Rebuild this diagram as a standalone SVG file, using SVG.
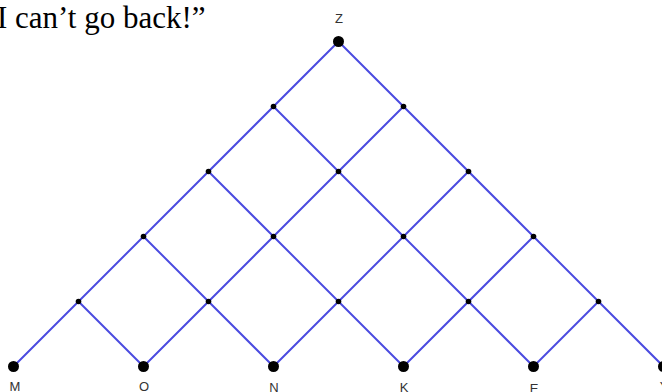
<svg xmlns="http://www.w3.org/2000/svg" width="662" height="392" viewBox="0 0 662 392">
<style>
.e{stroke:#4b4be0;stroke-width:2;fill:none;stroke-linecap:round}
.big{fill:#000}
.sm{fill:#000}
.lb{font-family:"Liberation Sans",Arial,sans-serif;font-size:13px;fill:#333;text-anchor:middle}
.q{font-family:"Liberation Serif","Times New Roman",serif;font-size:31px;fill:#000}
</style>
<rect width="662" height="392" fill="#fff"/>
<text class="q" x="-3" y="28">I can’t go back!”</text>
<g id="edges">
<line class="e" x1="338.5" y1="41.5" x2="13.5" y2="366.5"/>
<line class="e" x1="403.5" y1="106.5" x2="143.5" y2="366.5"/>
<line class="e" x1="468.5" y1="171.5" x2="273.5" y2="366.5"/>
<line class="e" x1="533.5" y1="236.5" x2="403.5" y2="366.5"/>
<line class="e" x1="598.5" y1="301.5" x2="533.5" y2="366.5"/>
<line class="e" x1="338.5" y1="41.5" x2="663.5" y2="366.5"/>
<line class="e" x1="273.5" y1="106.5" x2="533.5" y2="366.5"/>
<line class="e" x1="208.5" y1="171.5" x2="403.5" y2="366.5"/>
<line class="e" x1="143.5" y1="236.5" x2="273.5" y2="366.5"/>
<line class="e" x1="78.5" y1="301.5" x2="143.5" y2="366.5"/>
</g>
<g id="nZ"><circle class="big" cx="338.5" cy="41.5" r="5.5"/><text class="lb" x="339" y="23">Z</text></g>
<g id="r1a"><circle class="sm" cx="273.5" cy="106.5" r="2.8"/></g>
<g id="r1b"><circle class="sm" cx="403.5" cy="106.5" r="2.8"/></g>
<g id="r2a"><circle class="sm" cx="208.5" cy="171.5" r="2.8"/></g>
<g id="r2b"><circle class="sm" cx="338.5" cy="171.5" r="2.8"/></g>
<g id="r2c"><circle class="sm" cx="468.5" cy="171.5" r="2.8"/></g>
<g id="r3a"><circle class="sm" cx="143.5" cy="236.5" r="2.8"/></g>
<g id="r3b"><circle class="sm" cx="273.5" cy="236.5" r="2.8"/></g>
<g id="r3c"><circle class="sm" cx="403.5" cy="236.5" r="2.8"/></g>
<g id="r3d"><circle class="sm" cx="533.5" cy="236.5" r="2.8"/></g>
<g id="r4a"><circle class="sm" cx="78.5" cy="301.5" r="2.8"/></g>
<g id="r4b"><circle class="sm" cx="208.5" cy="301.5" r="2.8"/></g>
<g id="r4c"><circle class="sm" cx="338.5" cy="301.5" r="2.8"/></g>
<g id="r4d"><circle class="sm" cx="468.5" cy="301.5" r="2.8"/></g>
<g id="r4e"><circle class="sm" cx="598.5" cy="301.5" r="2.8"/></g>
<g id="nM"><circle class="big" cx="13.5" cy="366.5" r="5.5"/><text class="lb" x="15" y="391">M</text></g>
<g id="nO"><circle class="big" cx="143.5" cy="366.5" r="5.5"/><text class="lb" x="144" y="391">O</text></g>
<g id="nN"><circle class="big" cx="273.5" cy="366.5" r="5.5"/><text class="lb" x="274" y="392">N</text></g>
<g id="nK"><circle class="big" cx="403.5" cy="366.5" r="5.5"/><text class="lb" x="404" y="392">K</text></g>
<g id="nE"><circle class="big" cx="533.5" cy="366.5" r="5.5"/><text class="lb" x="534" y="393">E</text></g>
<g id="nY"><circle class="big" cx="663.5" cy="366.5" r="5.5"/><text class="lb" x="664" y="391">Y</text></g>
</svg>
